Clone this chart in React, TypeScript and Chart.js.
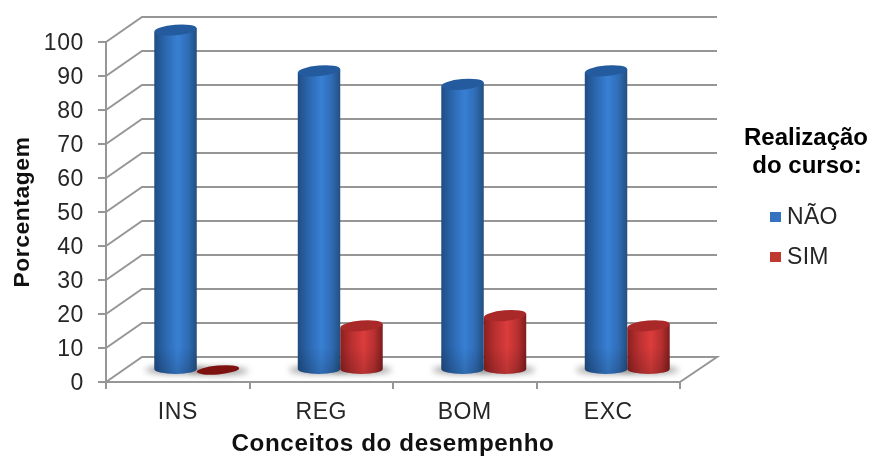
import { useEffect, useRef } from "react";
import { Chart, registerables } from "chart.js";

Chart.register(...registerables);

const categories = ["INS", "REG", "BOM", "EXC"];
const naoValues = [100, 88, 84, 88];
const simValues = [0, 13, 16, 13];
const yTicks = { min: 0, max: 100, step: 10 };
const legendTitle = ["Realização", "do curso:"];
const xTitle = "Conceitos do desempenho";
const yTitle = "Porcentagem";

const FONT = "'Liberation Sans', Arial, sans-serif";
const GRID = "#969696";
const WALL_DX = 36;
const WALL_DY = 25;
const BAR_DX = 19;
const BAR_DY = 12;

type Palette = { legend: string; top: string; zero: string; stops: [number, string][] };

const palettes: Palette[] = [
  {
    legend: "#3572bf",
    top: "#235b9e",
    zero: "#235b9e",
    stops: [[0, "#1f4d85"], [0.25, "#2b66ad"], [0.55, "#3880d4"], [0.8, "#2f6cb5"], [1, "#234f80"]],
  },
  {
    legend: "#c0392f",
    top: "#a92929",
    zero: "#7d1210",
    stops: [[0, "#8c1f1f"], [0.25, "#b72f2f"], [0.55, "#dc3c3c"], [0.8, "#b83030"], [1, "#7f1c1c"]],
  },
];

// Back wall, side wall and floor of the pseudo-3D plot box, plus the soft
// shadows the cylinders cast on the floor.
const wallPlugin = {
  id: "wall",
  beforeDraw(chart: any) {
    chart.ctx.letterSpacing = "0.6px";
  },
  beforeDatasetsDraw(chart: any) {
    const { ctx, chartArea, scales } = chart;
    ctx.save();
    ctx.strokeStyle = GRID;
    ctx.lineWidth = 2;
    for (const tick of scales.y.ticks) {
      const p = scales.y.getPixelForValue(tick.value);
      ctx.beginPath();
      ctx.moveTo(chartArea.left, p);
      ctx.lineTo(chartArea.left + WALL_DX, p - WALL_DY);
      ctx.lineTo(chartArea.right + WALL_DX + 1, p - WALL_DY);
      if (tick.value === 0) ctx.lineTo(chartArea.right, p);
      ctx.stroke();
    }
    ctx.filter = "blur(3px)";
    ctx.fillStyle = "rgba(95,95,95,0.6)";
    chart.getSortedVisibleDatasetMetas().forEach((meta: any) => {
      meta.data.forEach((el: any) => {
        ctx.beginPath();
        ctx.ellipse(el.x + BAR_DX, el.base - BAR_DY + 1, el.width / 2 + 9, 4, 0, 0, Math.PI * 2);
        ctx.fill();
      });
    });
    ctx.restore();
  },
  // Cylinders replace the flat bars; position and height come from the bar elements.
  beforeDatasetDraw(chart: any, args: any) {
    const { ctx } = chart;
    const palette = palettes[args.index];
    ctx.save();
    args.meta.data.forEach((el: any) => {
      const cx = el.x + BAR_DX;
      const r = el.width / 2;
      const topY = el.y - BAR_DY;
      const baseY = el.base - BAR_DY;
      const tilt = (-5 * Math.PI) / 180;
      const lift = r * Math.sin(-tilt);
      if (baseY - topY < 1) {
        ctx.fillStyle = palette.zero;
        ctx.beginPath();
        ctx.ellipse(cx, baseY, r, 4.4, tilt, 0, Math.PI * 2);
        ctx.fill();
        return;
      }
      const body = new Path2D();
      body.moveTo(cx - r, topY + lift);
      body.lineTo(cx - r, baseY);
      body.ellipse(cx, baseY, r, 5, 0, Math.PI, 0, true);
      body.lineTo(cx + r, topY - lift);
      body.closePath();
      const gradient = ctx.createLinearGradient(cx - r, 0, cx + r, 0);
      palette.stops.forEach(([at, color]) => gradient.addColorStop(at, color));
      ctx.fillStyle = gradient;
      ctx.fill(body);
      // Darker foot of the cylinder.
      const foot = ctx.createLinearGradient(0, baseY - 22, 0, baseY + 5);
      foot.addColorStop(0, "rgba(0,0,0,0)");
      foot.addColorStop(1, "rgba(0,0,0,0.16)");
      ctx.fillStyle = foot;
      ctx.fill(body);
      ctx.fillStyle = palette.top;
      ctx.beginPath();
      ctx.ellipse(cx, topY, r, 5.3, tilt, 0, Math.PI * 2);
      ctx.fill();
    });
    ctx.restore();
    return false;
  },
};

// Legend block to the right of the plot: two-line bold heading and two swatches.
const legendPlugin = {
  id: "sideLegend",
  afterDraw(chart: any) {
    const { ctx } = chart;
    ctx.save();
    ctx.textBaseline = "middle";
    ctx.textAlign = "center";
    ctx.fillStyle = "#000";
    ctx.font = `bold 24px ${FONT}`;
    ctx.letterSpacing = "0px";
    ctx.fillText(legendTitle[0], 806, 138);
    ctx.fillText(legendTitle[1], 807, 166);
    ctx.textAlign = "left";
    ctx.font = `23px ${FONT}`;
    ctx.letterSpacing = "0.3px";
    chart.data.datasets.forEach((ds: any, i: number) => {
      const cy = 218 + i * 40;
      ctx.fillStyle = palettes[i].legend;
      ctx.fillRect(770, cy - 6, 11, 10);
      ctx.fillStyle = "#262626";
      ctx.fillText(ds.label, 787, cy);
    });
    ctx.restore();
  },
};

export default function App() {
  const canvasRef = useRef<HTMLCanvasElement>(null);

  useEffect(() => {
    const chart = new Chart(canvasRef.current as HTMLCanvasElement, {
      type: "bar",
      data: {
        labels: categories,
        datasets: [
          { label: "NÃO", data: naoValues, backgroundColor: palettes[0].legend },
          { label: "SIM", data: simValues, backgroundColor: palettes[1].legend },
        ],
      },
      plugins: [wallPlugin, legendPlugin],
      options: {
        responsive: false,
        animation: false,
        layout: { padding: { left: 0, right: 194, top: 42, bottom: 0 } },
        datasets: { bar: { categoryPercentage: 0.592, barPercentage: 1 } },
        plugins: { legend: { display: false }, tooltip: { enabled: false } },
        scales: {
          x: {
            afterFit: (scale: any) => {
              scale.height = 77;
            },
            grid: { drawOnChartArea: false, color: GRID, lineWidth: 2, tickLength: 7, offset: true },
            border: { color: GRID, width: 2 },
            ticks: { color: "#262626", padding: 10, font: { family: FONT, size: 23 }, maxRotation: 0 },
            title: {
              display: true,
              text: xTitle,
              color: "#111",
              padding: { top: 0, bottom: 0 },
              font: { family: FONT, size: 24.2, weight: "bold" },
            },
          },
          y: {
            min: yTicks.min,
            max: yTicks.max,
            afterFit: (scale: any) => {
              scale.width = 106;
            },
            grid: { drawOnChartArea: false, color: GRID, lineWidth: 2, tickLength: 8 },
            border: { color: GRID, width: 2 },
            ticks: {
              stepSize: yTicks.step,
              color: "#262626",
              padding: 14,
              labelOffset: 1.5,
              font: { family: FONT, size: 23 },
            },
            title: {
              display: true,
              text: yTitle,
              color: "#111",
              padding: { top: 9, bottom: 0 },
              font: { family: FONT, size: 22.8, weight: "bold" },
            },
          },
        },
      },
    } as any);
    return () => chart.destroy();
  }, []);

  return (
    <div style={{ position: "fixed", left: 0, top: 0, width: 874, height: 459, background: "#fff" }}>
      <canvas ref={canvasRef} width={874} height={459} style={{ display: "block" }} />
    </div>
  );
}
